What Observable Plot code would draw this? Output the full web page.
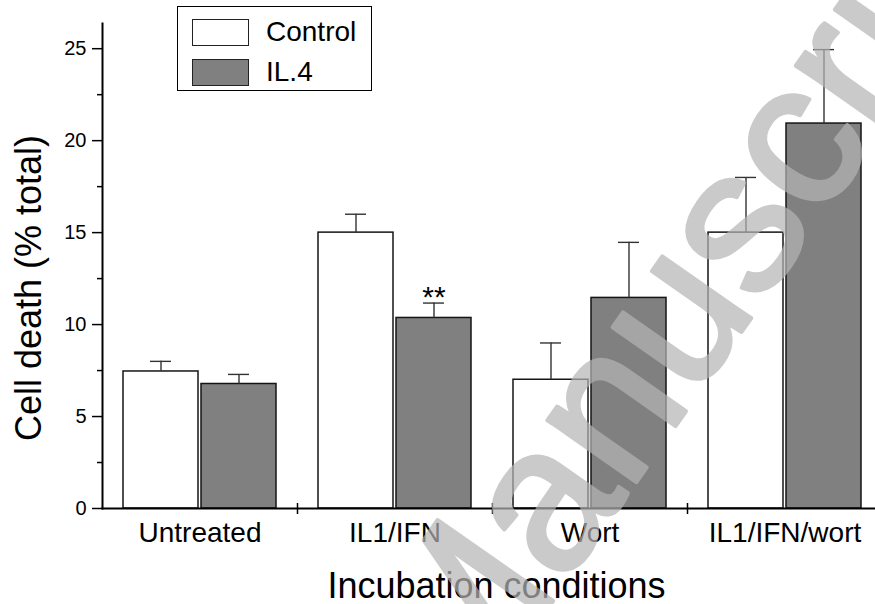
<!DOCTYPE html>
<html>
<head>
<meta charset="utf-8">
<script src="https://cdn.jsdelivr.net/npm/d3@7"></script>
<script src="https://cdn.jsdelivr.net/npm/@observablehq/plot@0.6"></script>
<style>
  html, body { margin: 0; padding: 0; background: white; }
  #wrap { position: relative; width: 875px; height: 604px; overflow: hidden; font-family: "Liberation Sans", Arial, sans-serif; }
  #legend { position: absolute; left: 177px; top: 6px; width: 193px; height: 83px; border: 1.5px solid #000; background: white; box-sizing: content-box; }
  .item { position: absolute; left: 14px; display: flex; align-items: center; font-size: 28px; color: #000; }
  .sw { width: 55px; height: 25px; border: 1.5px solid #222; margin-right: 17px; }
  #wm { position: absolute; left: 0; top: 0; pointer-events: none; }
</style>
</head>
<body>
<div id="wrap"></div>
<script>
// ---- data ----
const categories = ["Untreated", "IL1/IFN", "Wort", "IL1/IFN/wort"];
const series = ["Control", "IL.4"];
const controlMean  = [7.45, 15.0, 7.0, 15.0];
const controlUpper = [8.0, 16.0, 9.0, 18.0];
const il4Mean      = [6.77, 10.36, 11.45, 20.93];
const il4Upper     = [7.29, 11.17, 14.47, 24.95];
const yTicks = [0, 5, 10, 15, 20, 25];
const yMinorTicks = [2.5, 7.5, 12.5, 17.5, 22.5];
const seriesColors = ["white", "#808080"];
const annotations = [{category: "IL1/IFN", series: "IL.4", label: "**"}];
const yTitle = "Cell death (% total)";
const xTitle = "Incubation conditions";
const watermark = ["Accepted ", "Manuscript"];

const rows = categories.flatMap((c, i) => [
  {category: c, series: "Control", mean: controlMean[i], upper: controlUpper[i]},
  {category: c, series: "IL.4", mean: il4Mean[i], upper: il4Upper[i]}
]);
const annRows = annotations.map(a => ({...a, upper: rows.find(r => r.category === a.category && r.series === a.series).upper}));
const boundaries = categories.slice(1);

const vline = {draw(context, size) { const r = Math.sqrt(size / Math.PI); context.moveTo(0, -r); context.lineTo(0, r); }};

const chart = Plot.plot({
  width: 875,
  height: 604,
  marginLeft: 101,
  marginRight: -7,
  marginTop: 23,
  marginBottom: 96,
  style: {fontFamily: "'Liberation Sans', Arial, sans-serif", fontSize: "20px", background: "transparent", color: "black"},
  fx: {domain: categories, padding: 0, label: null},
  x: {domain: series, paddingInner: 0.033, paddingOuter: 0.263, axis: null},
  y: {domain: [0, 26.37], axis: null},
  color: {domain: series, range: seriesColors},
  marks: [
    Plot.barY(rows, {fx: "category", x: "series", y: "mean", fill: "series", stroke: "#151515", strokeWidth: 1.5}),
    Plot.ruleX(rows, {fx: "category", x: "series", y1: "mean", y2: "upper", stroke: "#333", strokeWidth: 1.4}),
    Plot.tickY(rows, {fx: "category", x: "series", y: "upper", insetLeft: 27, insetRight: 27, stroke: "#333", strokeWidth: 1.4}),
    Plot.text(annRows, {fx: "category", x: "series", y: "upper", text: "label", fontSize: 30, lineAnchor: "bottom", dy: 4, fill: "black"}),
    Plot.frame({facet: "super", anchor: "bottom", stroke: "black", strokeWidth: 2}),
    Plot.frame({facet: "super", anchor: "left", stroke: "black", strokeWidth: 2}),
    Plot.dot(boundaries, {fx: d => d, frameAnchor: "bottom-left", symbol: vline, r: 5.5, stroke: "black", strokeWidth: 1.5, fill: "none"}),
    Plot.axisY({ticks: yTicks, tickSize: 10, tickPadding: 6, fontSize: 20, label: null, stroke: "black", strokeWidth: 1.5}),
    Plot.axisY({ticks: yMinorTicks, tickSize: 5, tickFormat: () => "", label: null, stroke: "black", strokeWidth: 1.5}),
    Plot.axisFx({anchor: "bottom", tickSize: 0, tickPadding: 14, fontSize: 28, label: null}),
    Plot.text([yTitle], {facet: "super", frameAnchor: "left", textAnchor: "middle", lineAnchor: "middle", rotate: -90, dx: -73.5, dy: 22, fontSize: 36, fill: "black"}),
    Plot.text([xTitle], {facet: "super", frameAnchor: "bottom", textAnchor: "middle", lineAnchor: "bottom", dx: 4, dy: 89, fontSize: 36, fill: "black"})
  ]
});

const wrap = document.getElementById("wrap");
wrap.appendChild(chart);

// legend
const legend = document.createElement("div");
legend.id = "legend";
series.forEach((s, i) => {
  const item = document.createElement("div");
  item.className = "item";
  item.style.top = (i === 0 ? 9 : 49) + "px";
  const sw = document.createElement("div");
  sw.className = "sw";
  sw.style.background = seriesColors[i];
  const lab = document.createElement("span");
  lab.textContent = s;
  item.appendChild(sw);
  item.appendChild(lab);
  legend.appendChild(item);
});
wrap.appendChild(legend);

// watermark overlay
const ns = "http://www.w3.org/2000/svg";
const wm = document.createElementNS(ns, "svg");
wm.setAttribute("id", "wm");
wm.setAttribute("width", 875);
wm.setAttribute("height", 604);
const g = document.createElementNS(ns, "g");
g.setAttribute("transform", "translate(465,727) rotate(-55)");
g.setAttribute("fill", "rgb(181,181,181)");
g.setAttribute("stroke", "rgb(181,181,181)");
g.setAttribute("stroke-width", "4");
g.setAttribute("stroke-linejoin", "round");
g.setAttribute("opacity", "0.7");
g.setAttribute("font-family", "'Liberation Sans', Arial, sans-serif");
g.setAttribute("font-size", "205");
const t1 = document.createElementNS(ns, "text");
t1.setAttribute("text-anchor", "end");
t1.textContent = watermark[0];
const t2 = document.createElementNS(ns, "text");
t2.setAttribute("text-anchor", "start");
t2.textContent = watermark[1];
g.appendChild(t1); g.appendChild(t2);
wm.appendChild(g);
wrap.appendChild(wm);
</script>
</body>
</html>
